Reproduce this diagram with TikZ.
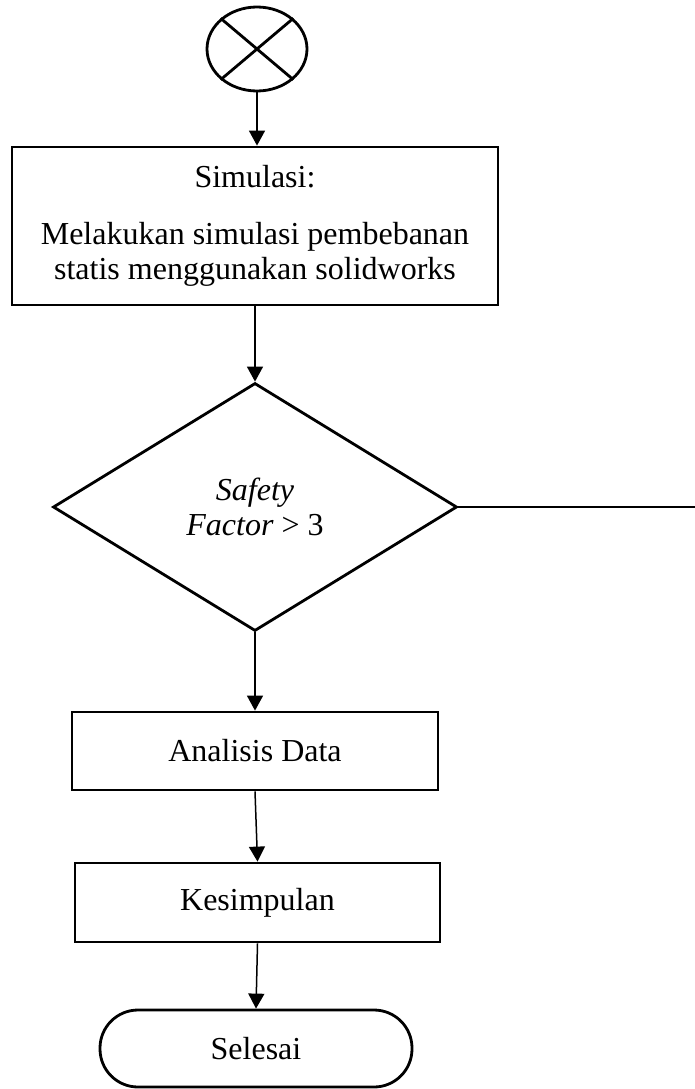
\documentclass[tikz,border=0pt]{standalone}
\usepackage{fontspec}
\setmainfont{Liberation Serif}
\usetikzlibrary{shapes.geometric,arrows.meta}

\begin{document}
\begin{tikzpicture}[x=1pt,y=-1pt,
    teks/.style={font=\fontsize{32}{35}\selectfont},
    kotak/.style={teks, draw, line width=2.8pt, rectangle, inner sep=0pt, align=center},
    keputusan/.style={teks, draw, line width=2.8pt, diamond, inner sep=0pt, align=center},
    ujung/.style={teks, draw, line width=2.8pt, rectangle, rounded corners=38pt, inner sep=0pt},
    panah/.style={-{Triangle[length=15pt,width=16pt]}, line width=1.5pt},
    garis/.style={line width=1.5pt}]
    \useasboundingbox (0,0) rectangle (695,1089);

    \node[draw, ellipse, line width=2.8pt, minimum width=100pt, minimum height=84pt, inner sep=0pt] (mulai) at (257,49) {};
    \draw[line width=2.8pt] (mulai.north west) -- (mulai.south east);
    \draw[line width=2.8pt] (mulai.north east) -- (mulai.south west);

    \node[kotak, minimum width=486pt, minimum height=158pt] (simulasi) at (255,226)
        {Simulasi:\\[22pt] Melakukan simulasi pembebanan\\ statis menggunakan solidworks};
    \node[keputusan, minimum width=404pt, minimum height=248pt] (sf) at (255,507)
        {\fontsize{32}{40}\selectfont\textit{Safety}\\ \textit{Factor} > 3};
    \coordinate (kanan) at (695,507);
    \node[kotak, minimum width=366pt, minimum height=78pt] (analisis) at (255,751) {Analisis Data};
    \node[kotak, minimum width=365pt, minimum height=79pt] (kesimpulan) at (257.5,902.5) {Kesimpulan};
    \node[ujung, minimum width=312pt, minimum height=77pt] (selesai) at (256,1048.5) {Selesai};

    \draw[panah] (mulai.south) -- (mulai.south |- simulasi.north);
    \draw[panah] (simulasi.south) -- (sf.north);
    \draw[garis] (sf.east) -- (sf.east -| kanan);
    \draw[panah] (sf.south) -- (analisis.north);
    \draw[panah] (analisis.south) -- (kesimpulan.north);
    \draw[panah] (kesimpulan.south) -- (selesai.north);
\end{tikzpicture}
\end{document}
